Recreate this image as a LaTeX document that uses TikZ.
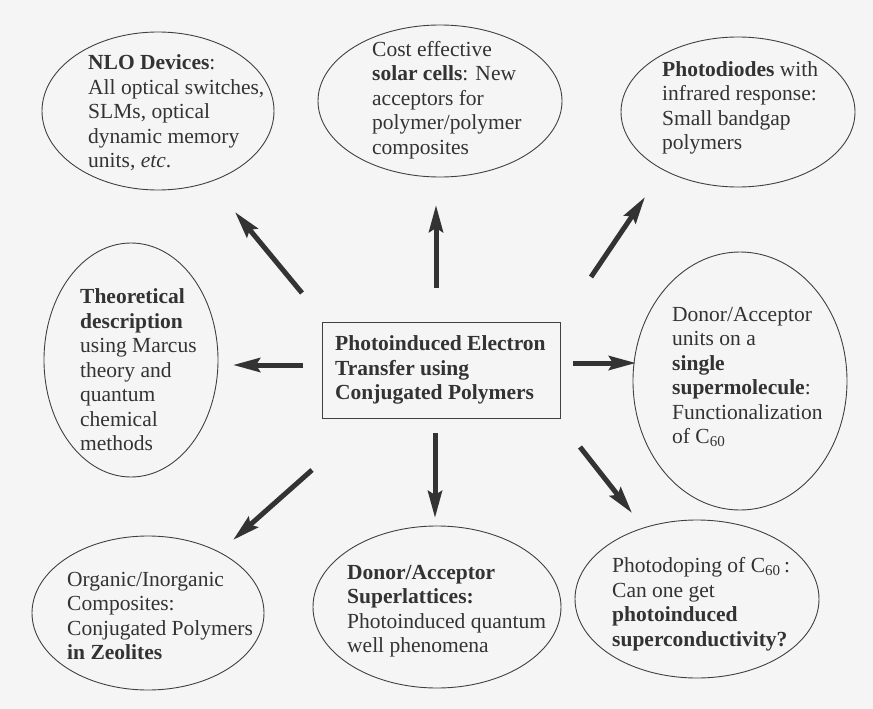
\documentclass[tikz,border=0pt]{standalone}
\usepackage{fontspec}
\setmainfont{Liberation Serif}
\usetikzlibrary{shapes.geometric,arrows.meta}
\begin{document}
\begin{tikzpicture}[x=1pt,y=-1pt,
  oval/.style={draw=black!75, line width=0.9pt, ellipse, inner sep=0pt},
  txt/.style={anchor=west, align=left, inner sep=0pt, text=black!80, font=\fontsize{21.5}{24.5}\selectfont},
  arr/.style={line width=5pt, draw=black!80, -{Stealth[length=27pt,width=14pt,inset=4pt]}}]
\useasboundingbox (0,0) rectangle (873,709);
\fill[black!4] (0,0) rectangle (873,709);
% ellipses
\node[oval, minimum width=232pt, minimum height=158pt] (nlo) at (158,111) {};
\node[oval, minimum width=244pt, minimum height=152pt] (solar) at (440,101) {};
\node[oval, minimum width=234pt, minimum height=150pt] (diode) at (738,112) {};
\node[oval, minimum width=174pt, minimum height=234pt] (theo) at (131,360) {};
\node[oval, minimum width=214pt, minimum height=258pt] (single) at (740,381) {};
\node[oval, minimum width=232pt, minimum height=154pt] (organic) at (148,613) {};
\node[oval, minimum width=248pt, minimum height=162pt] (super) at (437,607) {};
\node[oval, minimum width=244pt, minimum height=158pt] (doping) at (697,599) {};
\node[draw=black!75, line width=0.9pt, minimum width=238pt, minimum height=96pt, inner sep=0pt] (box) at (441,370) {};
% texts
\node[txt] (tnlo) at (88,113) {\textbf{NLO Devices}:\\All optical switches,\\SLMs, optical\\dynamic memory\\units, \textit{etc}.};
\node[txt] (tsolar) at (372,100) {Cost effective\\\textbf{solar cells}: New\\acceptors for\\polymer/polymer\\composites};
\node[txt] (tdiode) at (662,108) {\textbf{Photodiodes} with\\infrared response:\\Small bandgap\\polymers};
\node[txt] (ttheo) at (80,370) {\textbf{Theoretical}\\\textbf{description}\\using Marcus\\theory and\\quantum\\chemical\\methods};
\node[txt] (tsingle) at (672,377) {Donor/Acceptor\\units on a\\\textbf{single}\\\textbf{supermolecule}:\\Functionalization\\of C\textsubscript{60}};
\node[txt] (torganic) at (67,616) {Organic/Inorganic\\Composites:\\Conjugated Polymers\\\textbf{in Zeolites}};
\node[txt] (tsuper) at (347,611) {\textbf{Donor/Acceptor}\\\textbf{Superlattices:}\\Photoinduced quantum\\well phenomena};
\node[txt] (tdoping) at (612,604) {Photodoping of C\textsubscript{60}\,:\\Can one get\\\textbf{photoinduced}\\\textbf{superconductivity?}};
\node[txt] (tbox) at (335,370) {\textbf{Photoinduced Electron}\\\textbf{Transfer using}\\\textbf{Conjugated Polymers}};
% arrow end points
\coordinate (a1s) at (302,293); \coordinate (a1e) at (235,212);
\coordinate (a2s) at (436,288); \coordinate (a2e) at (436,205);
\coordinate (a3s) at (591,277); \coordinate (a3e) at (645,197);
\coordinate (a4s) at (303,365); \coordinate (a4e) at (233,365);
\coordinate (a5s) at (573,363); \coordinate (a5e) at (636,363);
\coordinate (a6s) at (312,470); \coordinate (a6e) at (233,540);
\coordinate (a7s) at (435,433); \coordinate (a7e) at (435,518);
\coordinate (a8s) at (580,447); \coordinate (a8e) at (632,513);
\draw[arr] (a1s) -- (a1e);
\draw[arr] (a2s) -- (a2e);
\draw[arr] (a3s) -- (a3e);
\draw[arr] (a4s) -- (a4e);
\draw[arr] (a5s) -- (a5e);
\draw[arr] (a6s) -- (a6e);
\draw[arr] (a7s) -- (a7e);
\draw[arr] (a8s) -- (a8e);
\end{tikzpicture}
\end{document}
